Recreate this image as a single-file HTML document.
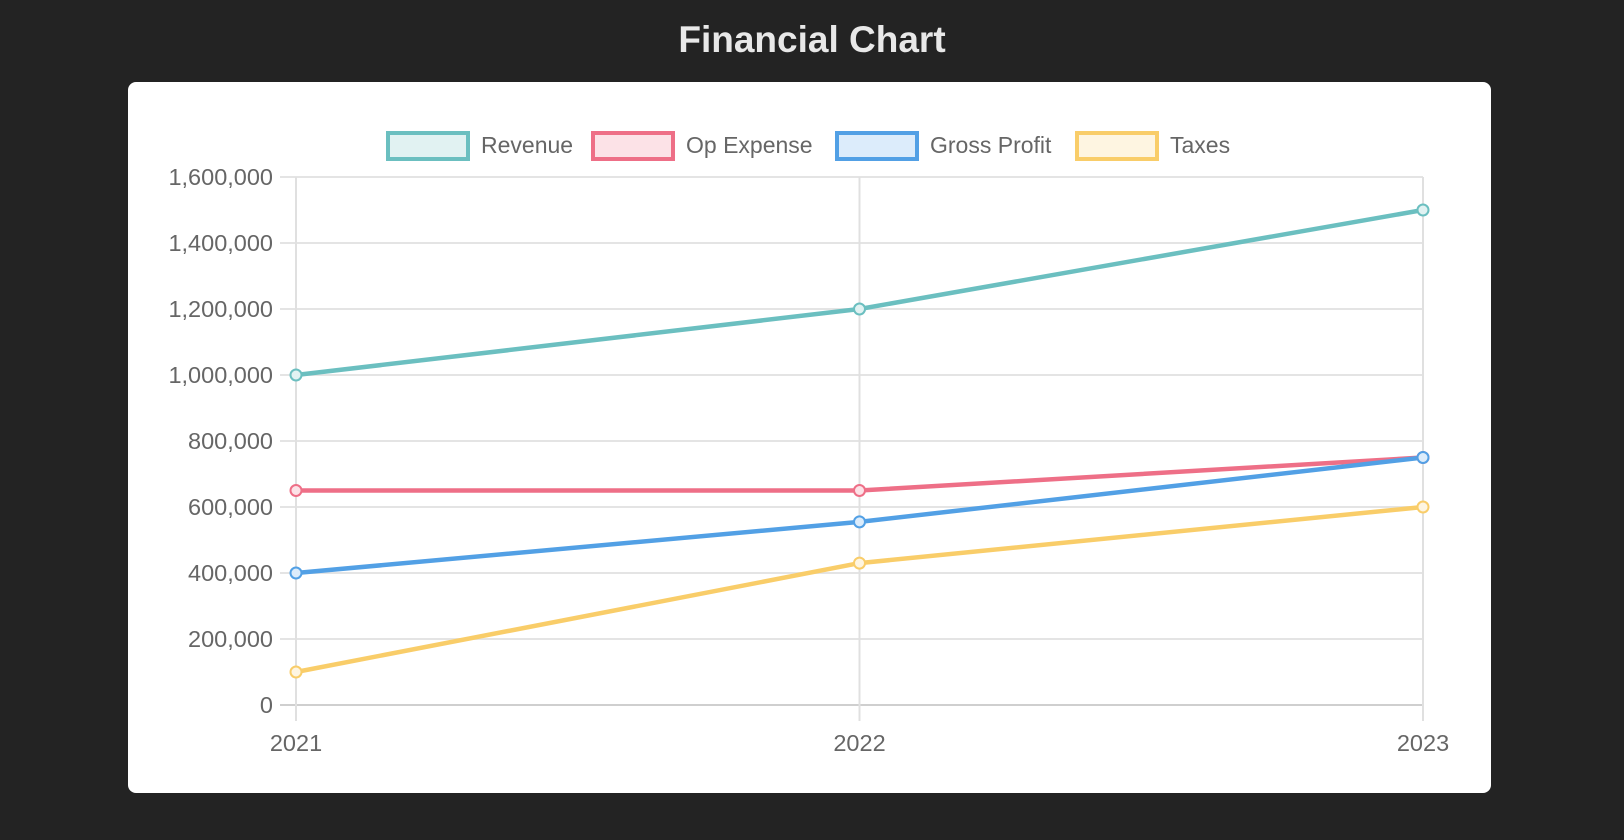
<!DOCTYPE html>
<html><head><meta charset="utf-8"><style>
html,body{margin:0;padding:0;background:#232323;width:1624px;height:840px;overflow:hidden;font-family:"Liberation Sans",sans-serif}
#title{position:absolute;left:0;width:1624px;top:19px;text-align:center;color:#e8e8e8;font-size:37px;font-weight:bold}
#card{position:absolute;left:128px;top:82px;width:1363px;height:711px;background:#fff;border-radius:8px}
svg{position:absolute;left:0;top:0}
</style></head><body>
<div id="title">Financial Chart</div>
<div id="card"></div>
<svg id="chart" width="1624" height="840"></svg>
<script>
const categories=["2021","2022","2023"];
const seriesNames=["Revenue","Op Expense","Gross Profit","Taxes"];
const revenue=[1000000,1200000,1500000];
const opExpense=[650000,650000,750000];
const grossProfit=[400000,555000,750000];
const taxes=[100000,430000,600000];
const yTicks=[0,200000,400000,600000,800000,1000000,1200000,1400000,1600000];
const colors=["#6bbfc0","#ee6f87","#52a0e5","#f9cd69"];
const fills=["#e1f2f2","#fce2e7","#dcecfb","#fef5e1"];
const allSeries=[revenue,opExpense,grossProfit,taxes];
const NS="http://www.w3.org/2000/svg";
const svg=document.getElementById('chart');
const X0=296,X1=1423,Y0=705,Y1=177,YMAX=1600000;
function xs(i){return X0+(X1-X0)*i/(categories.length-1);}
function ys(v){return Y0-(Y0-Y1)*v/YMAX;}
function mk(t,a){const e=document.createElementNS(NS,t);for(const k in a)e.setAttribute(k,a[k]);svg.appendChild(e);return e;}
yTicks.forEach(v=>{
  const g=mk('line',{x1:280,x2:X1,y1:ys(v),y2:ys(v),stroke:v===0?'#cfcfcf':'#e4e4e4','stroke-width':2});
  
  
  const t=mk('text',{x:273,y:ys(v)+8,'text-anchor':'end','font-size':23.5,fill:'#666','font-family':'Liberation Sans, sans-serif'});
  t.textContent=v.toLocaleString('en-US');
  
  
});
categories.forEach((c,i)=>{
  const g=mk('line',{x1:xs(i),x2:xs(i),y1:Y1,y2:Y0+16,stroke:'#e0e0e0','stroke-width':2});
  
  
  const t=mk('text',{x:xs(i),y:751,'text-anchor':'middle','font-size':23.5,fill:'#666','font-family':'Liberation Sans, sans-serif'});
  t.textContent=c;
  
  
});
allSeries.forEach((s,k)=>{
  const p=mk('polyline',{points:s.map((v,i)=>xs(i)+','+ys(v)).join(' '),fill:'none',stroke:colors[k],'stroke-width':4.5,'stroke-linejoin':'round'});
  
  
});
allSeries.forEach((s,k)=>{
  s.forEach((v,i)=>{
    const c=mk('circle',{cx:xs(i),cy:ys(v),r:5.5,fill:fills[k],stroke:colors[k],'stroke-width':2});
    
    
  });
});
const boxX=[386,591,835,1075];
seriesNames.forEach((n,k)=>{
  const r=mk('rect',{x:boxX[k]+2,y:133,width:80,height:26,fill:fills[k],stroke:colors[k],'stroke-width':4});
  
  
  const t=mk('text',{x:boxX[k]+95,y:153,'font-size':23,fill:'#666','font-family':'Liberation Sans, sans-serif'});
  t.textContent=n;
  
  
});
</script>
</body></html>
